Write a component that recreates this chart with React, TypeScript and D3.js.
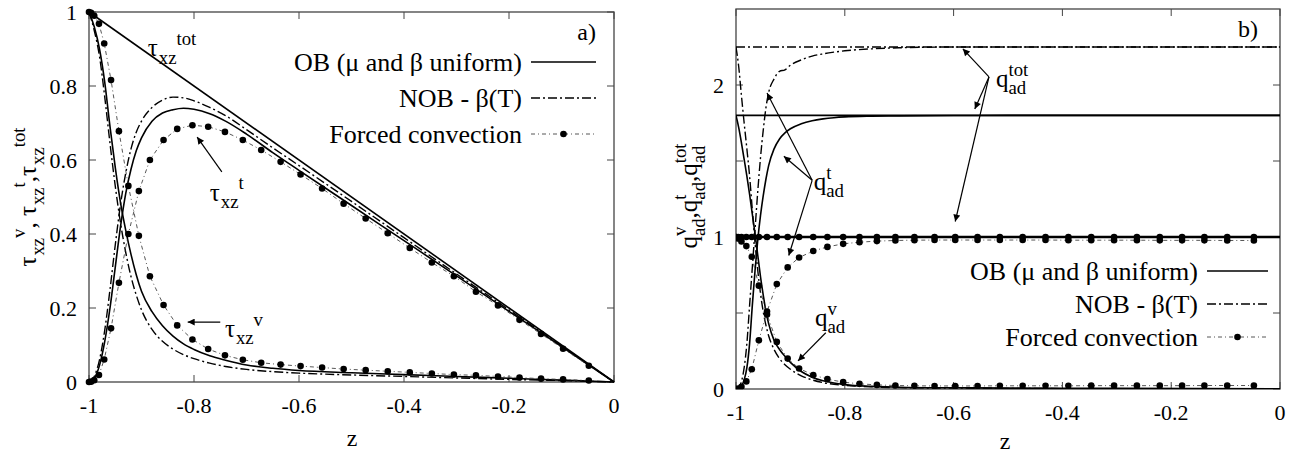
import React from 'react';
import * as d3 from 'd3';

// ---------- shared axis ticks ----------
const zTicks = [-1, -0.8, -0.6, -0.4, -0.2, 0];
const zTickLabels = ['-1', '-0.8', '-0.6', '-0.4', '-0.2', '0'];
const tauTicks = [0, 0.2, 0.4, 0.6, 0.8, 1];
const tauTickLabels = ['0', '0.2', '0.4', '0.6', '0.8', '1'];
const qTicks = [0, 0.5, 1, 1.5, 2];
const qTickLabels = ['0', '', '1', '', '2'];

const legendLabels = ['OB (\u03bc and \u03b2 uniform)', 'NOB - \u03b2(T)', 'Forced convection'];

// ---------- panel a) : shear stresses ----------
const totZ = [-1, 0];
const totTau = [1, 0];

const zA = [-1, -0.99, -0.98, -0.97, -0.96, -0.95, -0.94, -0.93, -0.92, -0.91, -0.9, -0.88, -0.86, -0.84, -0.82, -0.8, -0.77, -0.74, -0.7, -0.65, -0.6, -0.5, -0.4, -0.3, -0.2, -0.1, 0];
const tauV_OB = [1, 0.96, 0.9, 0.81, 0.69, 0.58, 0.485, 0.41, 0.345, 0.29, 0.245, 0.19, 0.152, 0.124, 0.103, 0.088, 0.071, 0.059, 0.046, 0.037, 0.031, 0.025, 0.02, 0.015, 0.01, 0.005, 0];
const tauT_OB = [0, 0.01, 0.045, 0.11, 0.2, 0.31, 0.42, 0.51, 0.575, 0.625, 0.66, 0.705, 0.727, 0.736, 0.74, 0.737, 0.725, 0.705, 0.67, 0.62, 0.572, 0.477, 0.382, 0.287, 0.191, 0.096, 0];
const tauV_NOB = [1, 0.95, 0.88, 0.77, 0.645, 0.53, 0.43, 0.35, 0.285, 0.235, 0.195, 0.142, 0.11, 0.089, 0.074, 0.063, 0.051, 0.042, 0.034, 0.028, 0.024, 0.019, 0.015, 0.011, 0.007, 0.004, 0];
const tauT_NOB = [0, 0.015, 0.06, 0.14, 0.25, 0.37, 0.48, 0.565, 0.63, 0.675, 0.705, 0.742, 0.762, 0.77, 0.768, 0.76, 0.742, 0.72, 0.682, 0.633, 0.585, 0.488, 0.39, 0.292, 0.195, 0.097, 0];

// forced convection samples (same z grid in both panels)
const zF = [-1, -0.996, -0.99, -0.981, -0.971, -0.958, -0.943, -0.925, -0.905, -0.884, -0.858, -0.832, -0.803, -0.773, -0.741, -0.707, -0.672, -0.635, -0.597, -0.556, -0.515, -0.473, -0.431, -0.389, -0.347, -0.305, -0.263, -0.221, -0.18, -0.139, -0.097, -0.048];
const tauV_F = [1, 0.998, 0.99, 0.968, 0.915, 0.816, 0.678, 0.53, 0.395, 0.286, 0.208, 0.153, 0.115, 0.089, 0.072, 0.06, 0.052, 0.047, 0.043, 0.039, 0.035, 0.032, 0.029, 0.026, 0.023, 0.02, 0.018, 0.015, 0.012, 0.009, 0.007, 0.004];
const tauT_F = [0, 0.001, 0.005, 0.019, 0.061, 0.145, 0.268, 0.4, 0.516, 0.6, 0.654, 0.684, 0.694, 0.69, 0.676, 0.654, 0.627, 0.595, 0.561, 0.523, 0.482, 0.442, 0.402, 0.362, 0.323, 0.286, 0.244, 0.207, 0.168, 0.13, 0.09, 0.044];

// ---------- panel b) : heat fluxes ----------
const zB = [-1, -0.995, -0.99, -0.985, -0.98, -0.975, -0.97, -0.965, -0.96, -0.955, -0.95, -0.945, -0.94, -0.93, -0.92, -0.91, -0.9, -0.88, -0.86, -0.84, -0.82, -0.8, -0.75, -0.7, -0.6, -0.5, -0.3, 0];
const qV_OB = [1.8, 1.72, 1.62, 1.51, 1.4, 1.28, 1.15, 1.02, 0.88, 0.74, 0.62, 0.51, 0.43, 0.32, 0.26, 0.215, 0.175, 0.115, 0.078, 0.054, 0.039, 0.029, 0.017, 0.012, 0.008, 0.006, 0.004, 0.002];
const qT_OB = [0, 0.005, 0.02, 0.06, 0.14, 0.3, 0.55, 0.78, 0.98, 1.14, 1.27, 1.38, 1.47, 1.58, 1.645, 1.685, 1.712, 1.745, 1.765, 1.777, 1.785, 1.79, 1.795, 1.797, 1.799, 1.8, 1.8, 1.8];
const qV_NOB = [2.25, 2.12, 1.93, 1.75, 1.58, 1.4, 1.18, 0.96, 0.78, 0.63, 0.51, 0.42, 0.35, 0.26, 0.2, 0.16, 0.13, 0.087, 0.06, 0.042, 0.031, 0.024, 0.014, 0.009, 0.006, 0.004, 0.002, 0.001];
const qT_NOB = [0, 0.01, 0.05, 0.14, 0.3, 0.55, 0.8, 1.05, 1.3, 1.52, 1.7, 1.85, 1.95, 2.04, 2.09, 2.1, 2.13, 2.165, 2.19, 2.205, 2.216, 2.225, 2.238, 2.245, 2.25, 2.25, 2.25, 2.25];
const qTot_OB = [1.8, 1.8];
const qTot_NOB = [2.25, 2.25];
const qV_F = [1, 0.99, 0.97, 0.94, 0.87, 0.68, 0.49, 0.31, 0.2, 0.135, 0.092, 0.065, 0.045, 0.034, 0.027, 0.023, 0.021, 0.02, 0.02, 0.02, 0.021, 0.021, 0.021, 0.021, 0.022, 0.022, 0.022, 0.022, 0.022, 0.023, 0.023, 0.023];
const qT_F = [0, 0.003, 0.015, 0.05, 0.13, 0.32, 0.51, 0.69, 0.8, 0.865, 0.908, 0.935, 0.955, 0.966, 0.973, 0.977, 0.979, 0.98, 0.98, 0.98, 0.98, 0.98, 0.98, 0.979, 0.979, 0.979, 0.979, 0.978, 0.978, 0.978, 0.977, 0.977];
const qTot_F = [1, 1, 1, 1, 1, 1, 1, 1, 1, 1, 1, 1, 1, 1, 1, 1, 1, 1, 1, 1, 1, 1, 1, 1, 1, 1, 1, 1, 1, 1, 1, 1];

const FONT = 'Liberation Serif';

const styles = {
  ob: { stroke: '#000', width: 1.6, dash: undefined as string | undefined },
  nob: { stroke: '#000', width: 1.4, dash: '9,3,2,3' },
  fc: { stroke: '#444', width: 0.9, dash: '4,3,1,3' },
};

// rough Times glyph widths (em) for placing sub/superscripts
const cw: Record<string, number> = {
  t: 0.28, a: 0.44, d: 0.5, v: 0.5, o: 0.5, x: 0.5, z: 0.44, q: 0.5,
  '\u03c4': 0.44, ',': 0.25, ' ': 0.25,
};
const textW = (s: string, fs: number) => s.split('').reduce((a, c) => a + (cw[c] ?? 0.5), 0) * fs;

type Part = { t?: string; k?: 'n' | 'sub' | 'sup'; sup?: string; sub?: string };

function T({ children, ...rest }: any) {
  return <text style={{ fontFamily: FONT }} fill="#000" {...rest}>{children}</text>;
}

function Enh({ x, y, fs, parts, anchor = 'start', rotate = 0 }: { x: number; y: number; fs: number; parts: Part[]; anchor?: string; rotate?: number }) {
  const small = fs * 0.75;
  let cx = 0;
  const pieces: { t: string; x: number; dy: number; size: number }[] = [];
  parts.forEach(p => {
    if (p.sup !== undefined || p.sub !== undefined) {
      const w1 = textW(p.sup || '', small);
      const w2 = textW(p.sub || '', small);
      if (p.sup) pieces.push({ t: p.sup, x: cx, dy: -fs * 0.45, size: small });
      if (p.sub) pieces.push({ t: p.sub, x: cx, dy: fs * 0.3, size: small });
      cx += Math.max(w1, w2);
    } else {
      const size = p.k === 'n' || !p.k ? fs : small;
      const dy = p.k === 'sub' ? fs * 0.3 : p.k === 'sup' ? -fs * 0.45 : 0;
      pieces.push({ t: p.t || '', x: cx, dy, size });
      cx += textW(p.t || '', size);
    }
  });
  const off = anchor === 'middle' ? -cx / 2 : 0;
  return (
    <g transform={`translate(${x},${y}) rotate(${rotate})`}>
      <T xmlSpace="preserve">
        {pieces.map((p, i) => (
          <tspan key={i} x={p.x + off} y={p.dy} fontSize={p.size}>{p.t}</tspan>
        ))}
      </T>
    </g>
  );
}

function Frame({ x, y, yTicks, yLabels, tickFs }: any) {
  const [x0, x1] = x.range();
  const [y0, y1] = y.range();
  const tl = 7;
  return (
    <g>
      <rect x={x0} y={y1} width={x1 - x0} height={y0 - y1} fill="none" stroke="#444" strokeWidth={1.3} />
      {zTicks.map((t, i) => (
        <g key={'x' + i}>
          <line x1={x(t)} x2={x(t)} y1={y0} y2={y0 - tl} stroke="#444" />
          <line x1={x(t)} x2={x(t)} y1={y1} y2={y1 + tl} stroke="#444" />
          <T x={x(t)} y={y0 + 31} textAnchor="middle" fontSize={tickFs}>{zTickLabels[i]}</T>
        </g>
      ))}
      {yTicks.map((t: number, i: number) => (
        <g key={'y' + i}>
          <line x1={x0} x2={x0 + tl} y1={y(t)} y2={y(t)} stroke="#444" />
          <line x1={x1} x2={x1 - tl} y1={y(t)} y2={y(t)} stroke="#444" />
          {yLabels[i] && (
            <T x={x0 - 12} y={y(t) + tickFs * 0.35} textAnchor="end" fontSize={tickFs}>{yLabels[i]}</T>
          )}
        </g>
      ))}
    </g>
  );
}

function Curve({ xs, ys, x, y, st, linear = false }: any) {
  const pts = xs.map((z: number, i: number) => [z, ys[i]]);
  const gen = d3.line<number[]>()
    .x(d => x(d[0]))
    .y(d => y(d[1]))
    .curve(linear ? d3.curveLinear : d3.curveMonotoneX);
  return <path d={gen(pts) || ''} fill="none" stroke={st.stroke} strokeWidth={st.width} strokeDasharray={st.dash} />;
}

function Dots({ xs, ys, x, y }: any) {
  return (
    <g>
      {xs.map((z: number, i: number) => (
        <circle key={i} cx={x(z)} cy={y(ys[i])} r={3.3} fill="#000" />
      ))}
    </g>
  );
}

function Legend({ xEnd, x1, x2, rows, fs }: any) {
  return (
    <g>
      {legendLabels.map((lab, i) => {
        const yy = rows[i];
        const st = i === 0 ? styles.ob : i === 1 ? styles.nob : styles.fc;
        return (
          <g key={i}>
            <T x={xEnd} y={yy + fs * 0.33} textAnchor="end" fontSize={fs}>{lab}</T>
            <line x1={x1} x2={x2} y1={yy} y2={yy} stroke={st.stroke} strokeWidth={st.width} strokeDasharray={st.dash} />
            {i === 2 && <circle cx={(x1 + x2) / 2} cy={yy} r={3.3} fill="#000" />}
          </g>
        );
      })}
    </g>
  );
}

function Arrow({ from, to, x, y }: any) {
  return (
    <line x1={x(from[0])} y1={y(from[1])} x2={x(to[0])} y2={y(to[1])} stroke="#000" strokeWidth={1.2} markerEnd="url(#ah)" />
  );
}

export default function App() {
  const xA = d3.scaleLinear().domain([-1, 0]).range([89, 614]);
  const yA = d3.scaleLinear().domain([0, 1]).range([382, 12]);
  const xB = d3.scaleLinear().domain([-1, 0]).range([736, 1280]);
  const yB = d3.scaleLinear().domain([0, 2.5]).range([389, 9]);
  const tickFs = 22;
  const sym = 25;

  return (
    <svg width={1299} height={461} style={{ position: 'absolute', left: 0, top: 0, background: '#fff' }}>
      <defs>
        <marker id="ah" viewBox="0 0 10 10" refX="10" refY="5" markerWidth="10" markerHeight="7" markerUnits="userSpaceOnUse" orient="auto">
          <path d="M0,0 L10,5 L0,10 z" fill="#000" />
        </marker>
        <clipPath id="cB"><rect x={736} y={9} width={544} height={380} /></clipPath>
      </defs>

      {/* ---------------- panel a ---------------- */}
      <Frame x={xA} y={yA} yTicks={tauTicks} yLabels={tauTickLabels} tickFs={tickFs} />
      <g>
        <Curve xs={totZ} ys={totTau} x={xA} y={yA} st={styles.ob} linear />
        <Curve xs={zA} ys={tauV_OB} x={xA} y={yA} st={styles.ob} />
        <Curve xs={zA} ys={tauT_OB} x={xA} y={yA} st={styles.ob} />
        <Curve xs={zA} ys={tauV_NOB} x={xA} y={yA} st={styles.nob} />
        <Curve xs={zA} ys={tauT_NOB} x={xA} y={yA} st={styles.nob} />
        <Curve xs={zF} ys={tauV_F} x={xA} y={yA} st={styles.fc} linear />
        <Curve xs={zF} ys={tauT_F} x={xA} y={yA} st={styles.fc} linear />
        <Dots xs={zF} ys={tauV_F} x={xA} y={yA} />
        <Dots xs={zF} ys={tauT_F} x={xA} y={yA} />
      </g>
      <Legend xEnd={522} x1={531} x2={596} rows={[62, 98, 134]} fs={26} />
      <T x={596} y={40} textAnchor="end" fontSize={24}>a)</T>

      <Enh x={xA(-0.888)} y={yA(0.88)} fs={sym} parts={[{ t: '\u03c4' }, { t: 'xz', k: 'sub' }, { t: 'tot', k: 'sup' }]} />
      <Enh x={xA(-0.77)} y={yA(0.49)} fs={sym} parts={[{ t: '\u03c4' }, { t: 'xz', k: 'sub' }, { t: 't', k: 'sup' }]} />
      <Arrow from={[-0.747, 0.568]} to={[-0.794, 0.662]} x={xA} y={yA} />
      <Enh x={xA(-0.741)} y={yA(0.122)} fs={sym} parts={[{ t: '\u03c4' }, { t: 'xz', k: 'sub' }, { t: 'v', k: 'sup' }]} />
      <Arrow from={[-0.75, 0.162]} to={[-0.812, 0.162]} x={xA} y={yA} />

      <Enh x={36} y={yA(0.5)} fs={sym} anchor="middle" rotate={-90}
        parts={[{ t: '\u03c4' }, { t: 'xz', k: 'sub' }, { t: 'v', k: 'sup' }, { t: ', ' }, { t: '\u03c4' }, { t: 'xz', k: 'sub' }, { t: 't', k: 'sup' }, { t: ',' }, { t: '\u03c4' }, { t: 'xz', k: 'sub' }, { t: 'tot', k: 'sup' }]} />
      <T x={352} y={446} textAnchor="middle" fontSize={24}>z</T>

      {/* ---------------- panel b ---------------- */}
      <Frame x={xB} y={yB} yTicks={qTicks} yLabels={qTickLabels} tickFs={tickFs} />
      <g clipPath="url(#cB)">
        <Curve xs={totZ} ys={qTot_NOB} x={xB} y={yB} st={styles.nob} linear />
        <Curve xs={totZ} ys={qTot_OB} x={xB} y={yB} st={styles.ob} linear />
        <Curve xs={zB} ys={qV_OB} x={xB} y={yB} st={styles.ob} />
        <Curve xs={zB} ys={qT_OB} x={xB} y={yB} st={styles.ob} />
        <Curve xs={zB} ys={qV_NOB} x={xB} y={yB} st={styles.nob} />
        <Curve xs={zB} ys={qT_NOB} x={xB} y={yB} st={styles.nob} />
        <Curve xs={[-1, 0]} ys={[1, 1]} x={xB} y={yB} st={{ stroke: '#000', width: 2.6 }} linear />
        <Curve xs={zF} ys={qV_F} x={xB} y={yB} st={styles.fc} linear />
        <Curve xs={zF} ys={qT_F} x={xB} y={yB} st={styles.fc} linear />
        <Dots xs={zF} ys={qV_F} x={xB} y={yB} />
        <Dots xs={zF} ys={qT_F} x={xB} y={yB} />
        <Dots xs={zF} ys={qTot_F} x={xB} y={yB} />
      </g>
      <Legend xEnd={1198} x1={1207} x2={1268} rows={[271, 304, 337]} fs={26} />
      <T x={1258} y={37} textAnchor="end" fontSize={24}>b)</T>

      <Enh x={xB(-0.857)} y={yB(1.31)} fs={sym} parts={[{ t: 'q' }, { sup: 't', sub: 'ad' }]} />
      <Arrow from={[-0.86, 1.373]} to={[-0.943, 1.947]} x={xB} y={yB} />
      <Arrow from={[-0.86, 1.373]} to={[-0.912, 1.531]} x={xB} y={yB} />
      <Arrow from={[-0.86, 1.373]} to={[-0.903, 0.878]} x={xB} y={yB} />
      <Enh x={xB(-0.855)} y={yB(0.416)} fs={sym} parts={[{ t: 'q' }, { sup: 'v', sub: 'ad' }]} />
      <Arrow from={[-0.835, 0.37]} to={[-0.886, 0.185]} x={xB} y={yB} />
      <Enh x={xB(-0.522)} y={yB(1.987)} fs={sym} parts={[{ t: 'q' }, { sup: 'tot', sub: 'ad' }]} />
      <Arrow from={[-0.535, 2.053]} to={[-0.583, 2.238]} x={xB} y={yB} />
      <Arrow from={[-0.535, 2.053]} to={[-0.561, 1.842]} x={xB} y={yB} />
      <Arrow from={[-0.535, 2.053]} to={[-0.597, 1.102]} x={xB} y={yB} />

      <Enh x={697} y={yB(1.27)} fs={sym} anchor="middle" rotate={-90}
        parts={[{ t: 'q' }, { sup: 'v', sub: 'ad' }, { t: ',' }, { t: 'q' }, { sup: 't', sub: 'ad' }, { t: ',' }, { t: 'q' }, { sup: 'tot', sub: 'ad' }]} />
      <T x={1005} y={449} textAnchor="middle" fontSize={24}>z</T>
    </svg>
  );
}
